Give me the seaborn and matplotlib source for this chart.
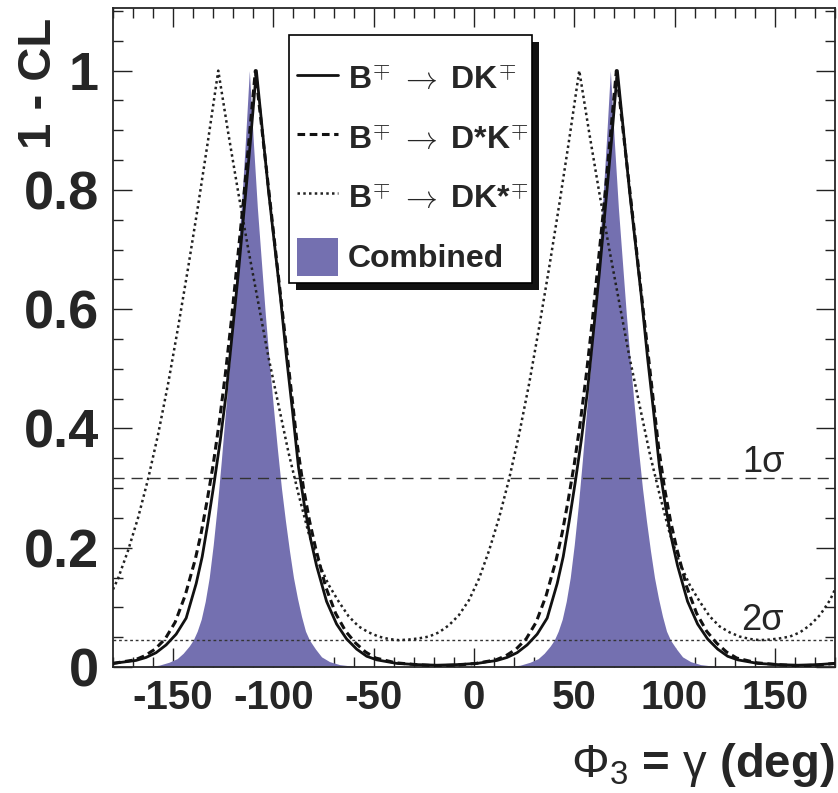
import matplotlib
matplotlib.use("Agg")
import matplotlib.pyplot as plt
import seaborn as sns
import pandas as pd
from matplotlib.lines import Line2D
from matplotlib.patches import Patch, Rectangle
from matplotlib.ticker import FixedLocator, MultipleLocator
from matplotlib.font_manager import FontProperties

# ---------------- data ----------------
# B -> DK  (solid)
dk_x = [-180, -168.5, -163.5, -158.5, -153.5, -148.5, -143.5, -138.5, -135.5, -132.5, -129.5, -126.5, -123.5, -120.5, -117.5, -114.5, -111.5, -108.5,
        -105.5, -102.5, -99.5, -96.5, -93.5, -90.5, -87.5, -84.5, -81.5, -78.5, -73.5, -68.5, -63.5, -58.5, -53.5, -48.5, -38.5, -28.5, -18.5,
        -8.5, 1.5, 11.5, 16.5, 21.5, 26.5, 31.5, 36.5, 41.5, 44.5, 47.5, 50.5, 53.5, 56.5, 59.5, 62.5, 65.5, 68.5, 71.5,
        74.5, 77.5, 80.5, 83.5, 86.5, 89.5, 92.5, 95.5, 98.5, 101.5, 106.5, 111.5, 116.5, 121.5, 126.5, 131.5, 141.5, 151.5, 161.5, 171.5, 180]
dk_y = [0.006, 0.011, 0.016, 0.024, 0.037, 0.055, 0.082, 0.14, 0.185, 0.245, 0.31, 0.38, 0.46, 0.56, 0.66, 0.77, 0.88, 1.0,
        0.9, 0.8, 0.71, 0.62, 0.52, 0.43, 0.335, 0.27, 0.215, 0.17, 0.11, 0.072, 0.047, 0.03, 0.018, 0.012, 0.006, 0.004, 0.003,
        0.004, 0.006, 0.011, 0.016, 0.024, 0.037, 0.055, 0.082, 0.14, 0.185, 0.245, 0.31, 0.38, 0.46, 0.56, 0.66, 0.77, 0.88, 1.0,
        0.9, 0.8, 0.71, 0.62, 0.52, 0.43, 0.335, 0.27, 0.215, 0.17, 0.11, 0.072, 0.047, 0.03, 0.018, 0.012, 0.006, 0.004, 0.003, 0.004, 0.006]

# B -> D*K  (dashed)
dsk_x = [-180, -169, -164, -159, -154, -149, -144, -139, -136, -133, -130, -127, -124, -121, -118, -115, -112, -109,
         -106, -103, -100, -97, -94, -91, -88, -85, -82, -79, -74, -69, -64, -59, -54, -49, -39, -29, -19,
         -9, 1, 11, 16, 21, 26, 31, 36, 41, 44, 47, 50, 53, 56, 59, 62, 65, 68, 71,
         74, 77, 80, 83, 86, 89, 92, 95, 98, 101, 106, 111, 116, 121, 126, 131, 141, 151, 161, 171, 180]
dsk_y = [0.006, 0.012, 0.019, 0.03, 0.047, 0.075, 0.12, 0.18, 0.225, 0.28, 0.34, 0.41, 0.49, 0.58, 0.68, 0.78, 0.89, 1.0,
         0.91, 0.82, 0.73, 0.64, 0.55, 0.46, 0.37, 0.3, 0.245, 0.2, 0.135, 0.09, 0.06, 0.04, 0.025, 0.015, 0.007, 0.004, 0.002,
         0.003, 0.006, 0.012, 0.019, 0.03, 0.047, 0.075, 0.12, 0.18, 0.225, 0.28, 0.34, 0.41, 0.49, 0.58, 0.68, 0.78, 0.89, 1.0,
         0.91, 0.82, 0.73, 0.64, 0.55, 0.46, 0.37, 0.3, 0.245, 0.2, 0.135, 0.09, 0.06, 0.04, 0.025, 0.015, 0.007, 0.004, 0.002, 0.003, 0.006]

# B -> DK*  (dotted)
dks_x = [-180, -177.5, -172.5, -167.5, -162.5, -157.5, -152.5, -147.5, -142.5, -137.5, -132.5, -127.5,
         -122.5, -117.5, -112.5, -107.5, -102.5, -97.5, -92.5, -87.5, -82.5, -77.5, -72.5, -67.5, -62.5, -57.5, -52.5, -47.5, -42.5, -37.5,
         -32.5, -27.5, -22.5, -17.5, -12.5, -7.5, -2.5, 2.5, 7.5, 12.5, 17.5, 22.5, 27.5, 32.5, 37.5, 42.5, 47.5, 52.5,
         57.5, 62.5, 67.5, 72.5, 77.5, 82.5, 87.5, 92.5, 97.5, 102.5, 107.5, 112.5, 117.5, 122.5, 127.5, 132.5, 137.5, 142.5,
         147.5, 152.5, 157.5, 162.5, 167.5, 172.5, 177.5, 180]
dks_y = [0.13, 0.148, 0.195, 0.25, 0.315, 0.39, 0.475, 0.57, 0.67, 0.775, 0.885, 1.0,
         0.895, 0.795, 0.7, 0.61, 0.52, 0.44, 0.36, 0.29, 0.225, 0.175, 0.138, 0.11, 0.085, 0.068, 0.058, 0.051, 0.047, 0.045,
         0.046, 0.048, 0.051, 0.058, 0.07, 0.087, 0.112, 0.148, 0.195, 0.25, 0.315, 0.39, 0.475, 0.57, 0.67, 0.775, 0.885, 1.0,
         0.895, 0.795, 0.7, 0.61, 0.52, 0.44, 0.36, 0.29, 0.225, 0.175, 0.138, 0.11, 0.085, 0.068, 0.058, 0.051, 0.047, 0.045,
         0.046, 0.048, 0.051, 0.058, 0.07, 0.087, 0.112, 0.13]

# Combined (filled)
comb_x = [-180, -167, -162, -157, -152, -148, -145, -142, -140, -138, -136, -134, -132, -130, -128, -126, -124, -122, -120, -118, -116, -114, -112,
          -110, -108, -106, -104, -102, -100, -98, -96, -94, -92, -90, -88, -86, -84, -82, -79, -76, -72, -67, -62, -57,
          13, 18, 23, 28, 32, 35, 38, 40, 42, 44, 46, 48, 50, 52, 54, 56, 58, 60, 62, 64, 66, 68,
          70, 72, 74, 76, 78, 80, 82, 84, 86, 88, 90, 92, 94, 96, 98, 101, 104, 108, 113, 118, 123, 180]
comb_y = [0, 0, 0.001, 0.003, 0.008, 0.014, 0.023, 0.035, 0.045, 0.06, 0.08, 0.11, 0.15, 0.205, 0.27, 0.345, 0.425, 0.5, 0.585, 0.68, 0.77, 0.88, 1.0,
          0.88, 0.77, 0.68, 0.59, 0.51, 0.435, 0.365, 0.3, 0.245, 0.195, 0.15, 0.115, 0.085, 0.06, 0.045, 0.03, 0.017, 0.009, 0.004, 0.002, 0,
          0, 0.001, 0.003, 0.008, 0.014, 0.023, 0.035, 0.045, 0.06, 0.08, 0.11, 0.15, 0.205, 0.27, 0.345, 0.425, 0.5, 0.585, 0.68, 0.77, 0.88, 1.0,
          0.88, 0.77, 0.68, 0.59, 0.51, 0.435, 0.365, 0.3, 0.245, 0.195, 0.15, 0.115, 0.085, 0.06, 0.045, 0.03, 0.017, 0.009, 0.004, 0.002, 0, 0]

sigma_levels = [0.3173, 0.0455]
sigma_labels = ["1σ", "2σ"]
x_ticks = [-150, -100, -50, 0, 50, 100, 150]
y_ticks = [0, 0.2, 0.4, 0.6, 0.8, 1.0]
y_ticklabels = ["0", "0.2", "0.4", "0.6", "0.8", "1"]
legend_labels = [r"B$^{\mp}\;\rightarrow\;$DK$^{\mp}$",
                 r"B$^{\mp}\;\rightarrow\;$D*K$^{\mp}$",
                 r"B$^{\mp}\;\rightarrow\;$DK*$^{\mp}$",
                 "Combined"]

# ---------------- style ----------------
sns.set_style("ticks")
plt.rcParams["font.family"] = ["Liberation Sans", "DejaVu Sans"]
plt.rcParams.update({
    "mathtext.fontset": "custom",
    "mathtext.rm": "Liberation Sans",
    "mathtext.bf": "Liberation Sans:bold",
    "mathtext.it": "Liberation Sans:italic",
    "axes.linewidth": 1.3,
})
PURPLE = "#7470b0"

fig = plt.figure(figsize=(8.38, 7.93), dpi=100)
ax = fig.add_axes([0.1348, 0.1589, 0.8616, 0.831])

ax.fill_between(comb_x, 0, comb_y, color=PURPLE, lw=0, zorder=1)
ax.axhline(sigma_levels[0], color="#333333", lw=1.0, ls=(0, (8, 5)), zorder=2)
ax.axhline(sigma_levels[1], color="#333333", lw=1.0, ls=(0, (2, 2)), zorder=2)

df_dk = pd.DataFrame({"x": dk_x, "y": dk_y})
df_dsk = pd.DataFrame({"x": dsk_x, "y": dsk_y})
df_dks = pd.DataFrame({"x": dks_x, "y": dks_y})
sns.lineplot(data=df_dks, x="x", y="y", ax=ax, color="#222222", lw=1.8, ls=(0, (1, 1.3)), estimator=None, sort=False, zorder=3)
sns.lineplot(data=df_dsk, x="x", y="y", ax=ax, color="#111111", lw=2.2, ls=(0, (2.5, 1.5)), estimator=None, sort=False, zorder=4)
sns.lineplot(data=df_dk, x="x", y="y", ax=ax, color="#111111", lw=2.0, estimator=None, sort=False, zorder=5)

ax.text(134, sigma_levels[0] + 0.01, sigma_labels[0], fontsize=26, ha="left", va="baseline")
ax.text(133, sigma_levels[1] + 0.016, sigma_labels[1], fontsize=26, ha="left", va="baseline")

ax.set_xlim(-180, 180)
ax.set_ylim(0, 1.105)
ax.xaxis.set_major_locator(FixedLocator(x_ticks))
ax.xaxis.set_minor_locator(MultipleLocator(10))
ax.yaxis.set_major_locator(FixedLocator(y_ticks))
ax.yaxis.set_minor_locator(MultipleLocator(0.05))
ax.set_xticklabels([str(t) for t in x_ticks], fontsize=29, fontweight="bold")
ax.set_yticklabels(y_ticklabels, fontsize=39, fontweight="bold")
ax.tick_params(which="both", direction="in", top=True, right=True, color="#222222")
ax.tick_params(which="major", length=14, width=1.0)
ax.tick_params(which="minor", length=7, width=1.0)
ax.tick_params(axis="x", pad=9)
ax.tick_params(axis="y", pad=10)

ax.set_xlabel(r"$\mathrm{\Phi_3}$ = $\mathrm{\gamma}$ (deg)", fontsize=34, fontweight="bold", loc="right")
ax.xaxis.set_label_coords(1.0, -0.112)
ax.set_ylabel("1 - CL", fontsize=34, fontweight="bold", loc="top")
ax.yaxis.set_label_coords(-0.072, 0.985)

# legend box with ROOT-like shadow (axes coords)
box_x0, box_x1, box_y0, box_y1 = 0.2438, 0.5803, 0.5827, 0.959
sh_dx, sh_dy = 0.0097, 0.0106
ax.add_patch(Rectangle((box_x0 + sh_dx, box_y0 - sh_dy), box_x1 - box_x0, box_y1 - box_y0, transform=ax.transAxes,
                       facecolor="#111111", edgecolor="none", clip_on=False, zorder=8))
ax.add_patch(Rectangle((box_x0, box_y0), box_x1 - box_x0, box_y1 - box_y0, transform=ax.transAxes,
                       facecolor="white", edgecolor="black", lw=1.2, clip_on=False, zorder=9))

handles = [Line2D([], [], color="#111111", lw=2.0),
           Line2D([], [], color="#111111", lw=2.2, ls=(0, (2.5, 1.5))),
           Line2D([], [], color="#222222", lw=1.8, ls=(0, (1, 1.3))),
           Patch(facecolor=PURPLE, edgecolor="none")]
leg_font = FontProperties(family=["Liberation Sans", "DejaVu Sans"], weight="bold", size=23, math_fontfamily="cm")
leg = ax.legend(handles, legend_labels, loc="upper left", bbox_to_anchor=(0.2368, 0.9408),
                borderaxespad=0, frameon=False, prop=leg_font,
                handlelength=1.3, handleheight=1.45, handletextpad=0.3, labelspacing=0.67, borderpad=0.4)
leg.set_zorder(10)

fig.savefig("out.png", dpi=100)
